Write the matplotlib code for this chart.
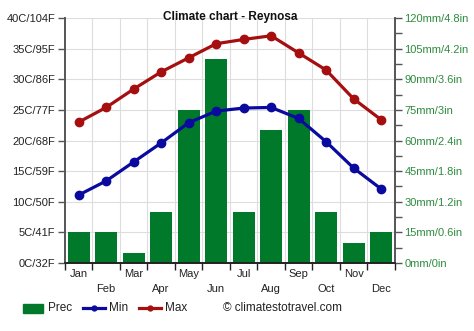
import matplotlib
matplotlib.use("Agg")
import matplotlib.pyplot as plt
import numpy as np
from matplotlib.lines import Line2D
from matplotlib.patches import Rectangle

plt.rcParams['font.family'] = ['Liberation Sans', 'DejaVu Sans']

months = ["Jan", "Feb", "Mar", "Apr", "May", "Jun", "Jul", "Aug", "Sep", "Oct", "Nov", "Dec"]
prec = [15, 15, 5, 25, 75, 100, 25, 65, 75, 25, 10, 15]
tmin = [11.1, 13.4, 16.5, 19.6, 22.9, 24.8, 25.3, 25.4, 23.6, 19.8, 15.5, 12.1]
tmax = [23.0, 25.4, 28.4, 31.2, 33.5, 35.8, 36.5, 37.1, 34.3, 31.5, 26.8, 23.4]
left_labels = ["0C/32F", "5C/41F", "10C/50F", "15C/59F", "20C/68F", "25C/77F", "30C/86F", "35C/95F", "40C/104F"]
right_labels = ["0mm/0in", "15mm/0.6in", "30mm/1.2in", "45mm/1.8in", "60mm/2.4in", "75mm/3in", "90mm/3.6in", "105mm/4.2in", "120mm/4.8in"]

W, H = 474, 331
fig = plt.figure(figsize=(4.74, 3.31), dpi=100)
ax = fig.add_axes([0.137, 0.2054, 0.696, 0.7402])
ax2 = ax.twinx()

x = np.arange(12)
bar_color = "#007a2a"
min_color = "#0a0a9e"
max_color = "#a50f0f"
ax2.bar(x, prec, width=0.8, color=bar_color, zorder=2)
ax2.set_ylim(0, 120)
ax.set_ylim(0, 40)
ax.set_xlim(-0.5, 11.5)

ax.set_zorder(ax2.get_zorder() + 1)
ax.patch.set_visible(False)
ax2.patch.set_visible(True)
ax2.patch.set_facecolor("white")

ax.plot(x, tmax, color=max_color, lw=2.3, marker="o", ms=6, zorder=5)
ax.plot(x, tmin, color=min_color, lw=2.3, marker="o", ms=6, zorder=5)

for yv in np.arange(0, 121, 15):
    ax2.axhline(yv, color="#dddddd", lw=0.8, zorder=0)
for xv in np.arange(0.5, 11.5, 1):
    ax2.axvline(xv, color="#dddddd", lw=0.8, zorder=0)

ax.set_yticks(np.arange(0, 41, 5))
ax.set_yticklabels(left_labels, fontsize=8, color="#222222")
ax2.set_yticks(np.arange(0, 121, 15))
ax2.set_yticklabels(right_labels, fontsize=8, color="#2e8b3e")
ax2.set_yticks(np.arange(7.5, 120, 15), minor=True)
ax2.tick_params(axis="y", which="both", length=5, color="#555555", width=1, pad=2)
ax.tick_params(axis="y", length=5, color="#555555", width=1, pad=2)

ax.set_xticks(np.arange(-0.5, 12, 1))
ax.set_xticklabels([])
ax.tick_params(axis="x", length=5, color="#222222", width=1)
for i, m in enumerate(months):
    yoff = -0.025 if i % 2 == 0 else -0.085
    ax.text(i, yoff, m, transform=ax.get_xaxis_transform(), ha="center", va="top", fontsize=8, color="#222222")

for a in (ax, ax2):
    a.spines["top"].set_visible(False)
    a.spines["left"].set_color("#555555")
    a.spines["right"].set_color("#555555")
    a.spines["bottom"].set_color("#222222")
    a.spines["left"].set_linewidth(1.2)
    a.spines["right"].set_linewidth(1.2)
    a.spines["bottom"].set_linewidth(1.2)

fig.text(0.485, 0.95, "Climate chart - Reynosa", ha="center", va="center", fontsize=8.5, fontweight="bold", color="#111111")

# manual legend (pixel positions converted to figure fraction)
ly = 1 - 308 / H
fig.add_artist(Rectangle((23 / W, ly - 4.5 / H), 20 / W, 9 / H, transform=fig.transFigure, color=bar_color))
fig.text(48 / W, ly, "Prec", ha="left", va="center", fontsize=8.5, color="#222222")
fig.add_artist(Line2D([83 / W, 105 / W], [ly, ly], transform=fig.transFigure, color=min_color, lw=2.3))
fig.add_artist(Line2D([94 / W], [ly], transform=fig.transFigure, color=min_color, marker="o", ms=3.5))
fig.text(109 / W, ly, "Min", ha="left", va="center", fontsize=8.5, color="#222222")
fig.add_artist(Line2D([139 / W, 161 / W], [ly, ly], transform=fig.transFigure, color=max_color, lw=2.3))
fig.add_artist(Line2D([150 / W], [ly], transform=fig.transFigure, color=max_color, marker="o", ms=3.5))
fig.text(165 / W, ly, "Max", ha="left", va="center", fontsize=8.5, color="#222222")
fig.text(223 / W, ly, "\u00a9 climatestotravel.com", ha="left", va="center", fontsize=8.5, color="#222222")

fig.savefig("out.png", dpi=100)
